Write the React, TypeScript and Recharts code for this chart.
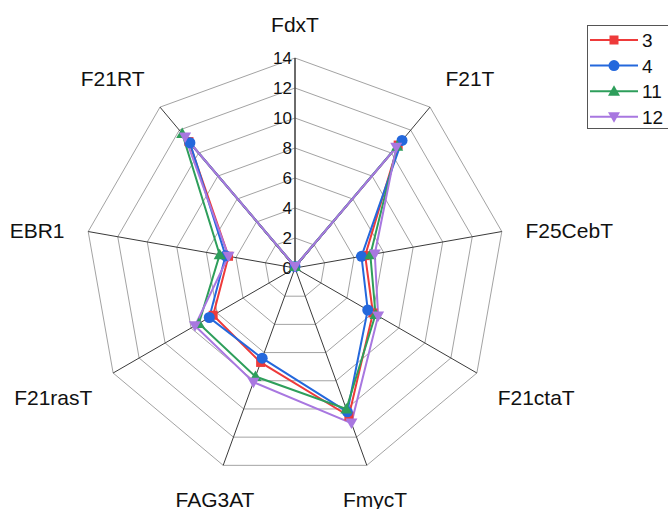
import React from "react";
import {
  RadarChart,
  Radar,
  PolarGrid,
  PolarAngleAxis,
  PolarRadiusAxis,
  Legend,
} from "recharts";

const axes = ["FdxT", "F21T", "F25CebT", "F21ctaT", "FmycT", "FAG3AT", "F21rasT", "EBR1", "F21RT"];
const s3 = [0.1, 10.7, 4.75, 6.0, 10.5, 6.7, 6.3, 4.5, 11.0];
const s4 = [0.1, 11.1, 4.5, 5.6, 10.2, 6.4, 6.6, 4.7, 10.9];
const s11 = [0.1, 10.6, 5.1, 6.2, 10.0, 7.7, 7.4, 5.1, 11.7];
const s12 = [0.1, 10.5, 5.4, 6.4, 11.0, 8.1, 7.7, 4.5, 11.4];
const radiusTicks = [0, 2, 4, 6, 8, 10, 12, 14];
const seriesNames = ["3", "4", "11", "12"];

const data = axes.map((a, i) => ({
  axis: a,
  s3: s3[i],
  s4: s4[i],
  s11: s11[i],
  s12: s12[i],
}));

const CX = 295;
const CY = 268;
const R = 210;
const FONT = "'Liberation Sans', Arial, sans-serif";

const COLORS = ["#EE3A3A", "#2468DC", "#2E9E5B", "#A877E0"];
const SHAPES = ["square", "circle", "triangle", "down"];

function Marker({ x, y, shape, color }: { x: number; y: number; shape: string; color: string }) {
  if (shape === "square") return <rect x={x - 4.5} y={y - 4.5} width={9} height={9} fill={color} />;
  if (shape === "circle") return <circle cx={x} cy={y} r={5.5} fill={color} />;
  if (shape === "triangle")
    return <polygon points={`${x},${y - 6} ${x - 6},${y + 4.5} ${x + 6},${y + 4.5}`} fill={color} />;
  return <polygon points={`${x},${y + 6} ${x - 6},${y - 4.5} ${x + 6},${y - 4.5}`} fill={color} />;
}

const makeDot = (idx: number) => (props: any) => {
  const { cx, cy, index } = props;
  return <Marker key={`d-${idx}-${index}`} x={cx} y={cy} shape={SHAPES[idx]} color={COLORS[idx]} />;
};

const AngleTick = (props: any) => {
  const { payload } = props;
  const ang = (payload.coordinate * Math.PI) / 180;
  const cos = Math.cos(ang);
  const sin = Math.sin(ang);
  const px = CX + (R + 24) * cos;
  const py = CY - (R + 24) * sin;
  let anchor: "start" | "end" | "middle" = "middle";
  if (cos > 0.4) anchor = "start";
  else if (cos < -0.4) anchor = "end";
  let base = py + 10.5;
  if (sin > 0.3) base = py - 2.5;
  else if (sin < -0.3) base = py + 19.5;
  return (
    <text x={px} y={base} textAnchor={anchor} fontSize={21} fontFamily={FONT} fill="#111">
      {payload.value}
    </text>
  );
};

const RadiusTick = (props: any) => {
  const { x, y, payload } = props;
  return (
    <text x={x - 3} y={y + 6} textAnchor="end" fontSize={17} fontFamily={FONT} fill="#111">
      {payload.value}
    </text>
  );
};

const LegendBox = () => (
  <div
    style={{
      width: 100,
      height: 104,
      border: "1.5px solid #555",
      background: "#fff",
      boxSizing: "border-box",
      position: "relative",
    }}
  >
    <svg width={100} height={104} style={{ position: "absolute", left: 0, top: 0 }}>
      {seriesNames.map((n, i) => {
        const y = 14 + i * 25.6;
        return (
          <g key={n}>
            <line x1={2} x2={50} y1={y} y2={y} stroke={COLORS[i]} strokeWidth={2} />
            <Marker x={26} y={y} shape={SHAPES[i]} color={COLORS[i]} />
            <text x={54} y={y + 7} fontSize={19} fontFamily={FONT} fill="#111">
              {n}
            </text>
          </g>
        );
      })}
    </svg>
  </div>
);

export default function App() {
  const keys = ["s3", "s4", "s11", "s12"];
  return (
    <div
      style={{
        position: "absolute",
        left: 0,
        top: 0,
        width: 668,
        height: 509,
        overflow: "hidden",
        background: "#fff",
      }}
    >
      <RadarChart
        width={668}
        height={509}
        data={data}
        cx={CX}
        cy={CY}
        outerRadius={R}
        margin={{ top: 0, right: 0, bottom: 0, left: 0 }}
      >
        <PolarGrid gridType="polygon" radialLines={false} stroke="#a3a3a3" strokeWidth={1} />
        <PolarGrid gridType="polygon" polarRadius={[]} radialLines={true} stroke="#3a3a3a" strokeWidth={1} />
        <PolarAngleAxis dataKey="axis" tick={AngleTick} axisLine={false} tickLine={false} />
        <PolarRadiusAxis
          angle={90}
          domain={[0, 14]}
          ticks={radiusTicks}
          tickCount={8}
          axisLine={{ stroke: "#3a3a3a" }}
          tickLine={false}
          tick={RadiusTick}
        />
        {keys.map((k, i) => (
          <Radar
            key={k}
            name={seriesNames[i]}
            dataKey={k}
            stroke={COLORS[i]}
            strokeWidth={2}
            fill="none"
            fillOpacity={0}
            dot={makeDot(i)}
            isAnimationActive={false}
          />
        ))}
        <Legend
          content={() => <LegendBox />}
          wrapperStyle={{ position: "absolute", left: 587, top: 25, width: 100 }}
        />
      </RadarChart>
    </div>
  );
}
